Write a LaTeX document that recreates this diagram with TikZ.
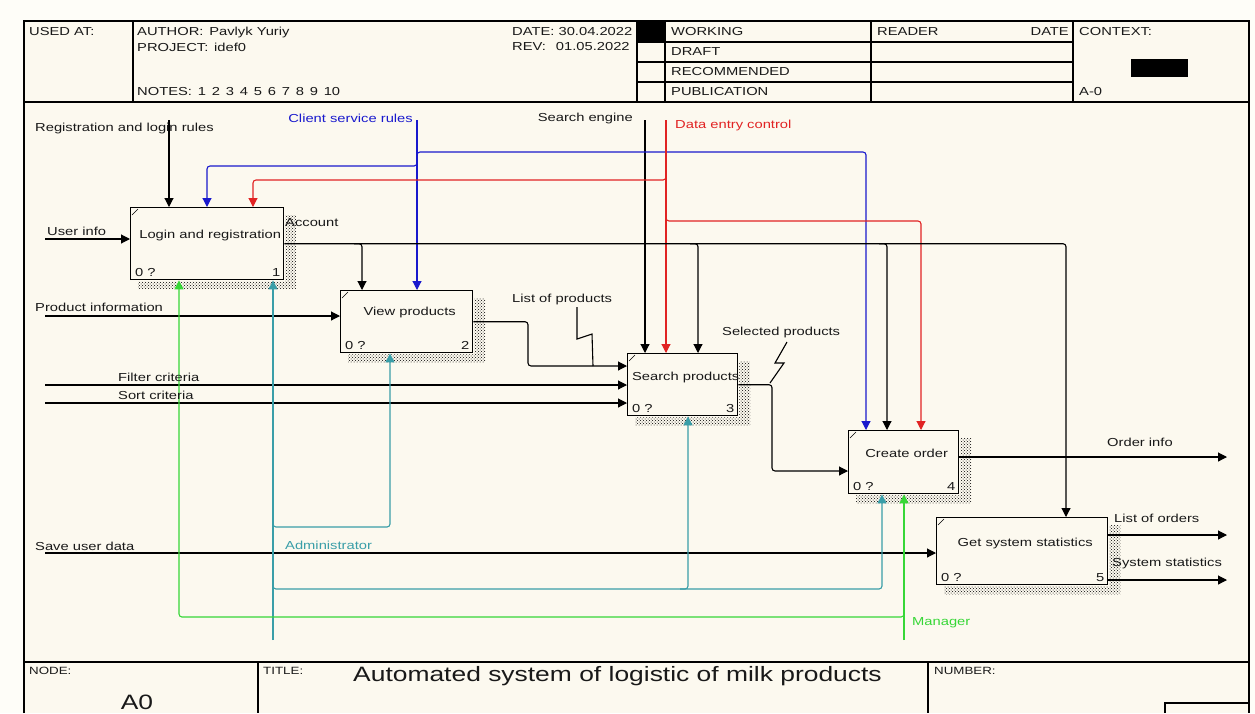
\documentclass[tikz,border=0pt]{standalone}
\usepackage{fontspec}
\setmainfont[FakeStretch=1.27]{Liberation Sans}
\usetikzlibrary{arrows.meta,patterns,calc}
\definecolor{paper}{RGB}{252,249,239}
\definecolor{margin}{RGB}{254,253,248}
\definecolor{ctlblue}{RGB}{25,25,205}
\definecolor{ctlred}{RGB}{225,35,35}
\definecolor{admcyan}{RGB}{58,158,168}
\definecolor{mgrgreen}{RGB}{55,215,55}
\tikzset{
  txt/.style={font=\fontsize{11.6}{13}\selectfont, inner sep=0pt, anchor=west, text=black!90},
  small/.style={font=\fontsize{10.5}{12}\selectfont, inner sep=0pt, anchor=west, text=black!90},
  big/.style={font=\fontsize{20.8}{24}\selectfont, inner sep=0pt, text=black!90},
  func/.style={draw, line width=1.4pt, fill=paper, anchor=north west, inner sep=0pt},
  frame/.style={line width=1.4pt},
  wire/.style={line width=1.1pt, rounded corners=3pt},
  arr/.style={wire, -{Triangle[length=9pt,width=9pt]}},
}
\begin{document}
\begin{tikzpicture}[x=1pt, y=-1pt]
  \useasboundingbox (0,0) rectangle (1255,713);
  \fill[margin] (0,0) rectangle (1255,713);
  \fill[paper] (24,21) rectangle (1249,713);

  % form
  \draw[frame] (24,713) -- (24,21) -- (1249,21) -- (1249,713);
  \draw[frame] (24,102) -- (1249,102);
  \draw[frame] (24,662) -- (1249,662);
  \foreach \x in {133,637,665,871,1073}
    \draw[frame] (\x,21) -- (\x,102);
  \foreach \y in {42,62,82}
    \draw[frame] (637,\y) -- (1073,\y);
  \fill (637,21) rectangle (665,42);
  \fill (1131,59) rectangle (1188,77);
  \draw[frame] (258,662) -- (258,713);
  \draw[frame] (928,662) -- (928,713);
  \draw[frame] (1165,713) -- (1165,703) -- (1249,703);

  \node[txt] (usedat) at (29,32) {USED AT:};
  \node[txt] (author) at (137,32) {AUTHOR:\enspace Pavlyk Yuriy};
  \node[txt] (project) at (137,47) {PROJECT:\enspace idef0};
  \node[txt] (notes) at (137,92) {NOTES:\enspace 1\enspace 2\enspace 3\enspace 4\enspace 5\enspace 6\enspace 7\enspace 8\enspace 9\enspace 10};
  \node[txt] (date) at (512,32) {DATE: 30.04.2022};
  \node[txt] (rev) at (512,47) {REV:\enspace\ 01.05.2022};
  \node[txt] (working) at (671,32) {WORKING};
  \node[txt] (draft) at (671,52) {DRAFT};
  \node[txt] (recommended) at (671,72) {RECOMMENDED};
  \node[txt] (publication) at (671,92) {PUBLICATION};
  \node[txt] (reader) at (877,32) {READER};
  \node[txt, anchor=east] (rdate) at (1069,32) {DATE};
  \node[txt] (context) at (1079,32) {CONTEXT:};
  \node[txt] (ctxnode) at (1079,92) {A-0};
  \node[small] (nodelbl) at (29,671) {NODE:};
  \node[big] (nodeid) at (137,702) {A0};
  \node[small] (titlelbl) at (263,671) {TITLE:};
  \node[big, anchor=west] (title) at (353,676) {Automated system of logistic of milk products};
  \node[small] (numberlbl) at (934,671) {NUMBER:};

  % functions
  \node[func, minimum width=153, minimum height=72] (login) at (130,207) {};
  \node[func, minimum width=132, minimum height=62] (view) at (340,290) {};
  \node[func, minimum width=110, minimum height=62] (search) at (627,353) {};
  \node[func, minimum width=110, minimum height=63] (order) at (848,430) {};
  \node[func, minimum width=171, minimum height=67] (stats) at (936,517) {};

  \foreach \b/\t/\n/\d in {login/Login and registration/1/28, view/View products/2/22,
      search/Search products/3/24, order/Create order/4/23, stats/Get system statistics/5/26} {
    \fill[pattern=crosshatch dots, pattern color=black]
      ($(\b.north east)+(1,8)$) rectangle ($(\b.south east)+(12,9)$)
      ($(\b.south west)+(8,1)$) rectangle ($(\b.south east)+(12,9)$);
    \draw[thin] ($(\b.north west)+(2,8)$) -- ($(\b.north west)+(8,2)$);
    \node[txt, anchor=center] (\b-txt) at ($(\b.north)+(3,\d)$) {\t};
    \node[txt, anchor=south west] (\b-q) at ($(\b.south west)+(5,-4)$) {0 ?};
    \node[txt, anchor=south east] (\b-n) at ($(\b.south east)+(-4,-4)$) {\n};
  }

  % controls
  \coordinate (regsrc) at (169,120);
  \coordinate (cssrc) at (417,120);
  \coordinate (sesrc) at (645,120);
  \coordinate (decsrc) at (666,120);
  \coordinate (csleft) at (207,166);
  \coordinate (csright) at (866,152);
  \coordinate (decleft) at (253,180);
  \coordinate (decright) at (921,221);
  \draw[arr] (regsrc) -- (regsrc |- login.north);
  \draw[arr] (sesrc) -- (sesrc |- search.north);
  \draw[arr, ctlblue] (cssrc) -- (cssrc |- view.north);
  \draw[arr, ctlblue] ($(cssrc |- csleft)+(0,-8)$) -- (cssrc |- csleft) -- (csleft) -- (csleft |- login.north);
  \draw[arr, ctlblue] ($(cssrc |- csright)+(0,8)$) -- (cssrc |- csright) -- (csright) -- (csright |- order.north);
  \draw[arr, ctlred] (decsrc) -- (decsrc |- search.north);
  \draw[arr, ctlred] ($(decsrc |- decleft)+(0,-8)$) -- (decsrc |- decleft) -- (decleft) -- (decleft |- login.north);
  \draw[arr, ctlred] ($(decsrc |- decright)+(0,-8)$) -- (decsrc |- decright) -- (decright) -- (decright |- order.north);

  % account
  \coordinate (accx) at (1066,0);
  \draw[arr] (login.east) -- (accx |- login.east) -- (accx |- stats.north);
  \foreach \x/\b in {362/view, 698/search, 887/order}
    \draw[arr] ($(\x,0 |- login.east)+(-8,0)$) -- (\x,0 |- login.east) -- (\x,0 |- \b.north);

  % inputs and outputs
  \coordinate (uisrc) at (45,239);
  \coordinate (pisrc) at (45,316);
  \coordinate (fcsrc) at (45,385);
  \coordinate (scsrc) at (45,403);
  \coordinate (sudsrc) at (45,553);
  \draw[arr] (uisrc) -- (uisrc -| login.west);
  \draw[arr] (pisrc) -- (pisrc -| view.west);
  \draw[arr] (fcsrc) -- (fcsrc -| search.west);
  \draw[arr] (scsrc) -- (scsrc -| search.west);
  \draw[arr] (sudsrc) -- (sudsrc -| stats.west);
  \coordinate (lopbend) at (528,366);
  \coordinate (spbend) at (772,471);
  \draw[arr] (view.east) -- (lopbend |- view.east) -- (lopbend) -- (lopbend -| search.west);
  \draw[arr] (search.east) -- (spbend |- search.east) -- (spbend) -- (spbend -| order.west);
  \coordinate (oiend) at (1227,457);
  \coordinate (loend) at (1227,535);
  \coordinate (ssend) at (1227,580);
  \draw[arr] (oiend -| order.east) -- (oiend);
  \draw[arr] (loend -| stats.east) -- (loend);
  \draw[arr] (ssend -| stats.east) -- (ssend);

  % mechanisms
  \coordinate (admsrc) at (273,640);
  \coordinate (admview) at (390,527);
  \coordinate (admlow) at (882,589);
  \coordinate (mgrsrc) at (904,640);
  \coordinate (mgrleft) at (179,617);
  \draw[arr, admcyan] (admsrc) -- (admsrc |- login.south);
  \draw[arr, admcyan] ($(admsrc |- admview)+(0,-8)$) -- (admsrc |- admview) -- (admview) -- (admview |- view.south);
  \draw[arr, admcyan] ($(admsrc |- admlow)+(0,-8)$) -- (admsrc |- admlow) -- (admlow) -- (admlow |- order.south);
  \draw[arr, admcyan] ($(688,0 |- admlow)+(-8,0)$) -- (688,0 |- admlow) -- (688,0 |- search.south);
  \draw[arr, mgrgreen] (mgrsrc) -- (mgrsrc |- order.south);
  \draw[arr, mgrgreen] ($(mgrsrc |- mgrleft)+(0,-8)$) -- (mgrsrc |- mgrleft) -- (mgrleft) -- (mgrleft |- login.south);

  % squiggles
  \draw[line width=1.1pt] (577,307) -- (577,339) -- (592,334) -- (593,366);
  \draw[line width=1.1pt] (787,342) -- (775,363) -- (784,363) -- (770,383);

  % labels
  \node[txt] (reglbl) at (35,128) {Registration and login rules};
  \node[txt, anchor=east, text=ctlblue] (cslbl) at (413,118) {Client service rules};
  \node[txt, anchor=east] (selbl) at (633,118) {Search engine};
  \node[txt, text=ctlred] (declbl) at (675,125) {Data entry control};
  \node[txt] (uilbl) at (47,231) {User info};
  \node[txt] (acclbl) at (285,223) {Account};
  \node[txt] (pilbl) at (35,307) {Product information};
  \node[txt] (loplbl) at (512,299) {List of products};
  \node[txt] (fclbl) at (118,377) {Filter criteria};
  \node[txt] (sclbl) at (118,395) {Sort criteria};
  \node[txt] (splbl) at (722,332) {Selected products};
  \node[txt] (oilbl) at (1107,442) {Order info};
  \node[txt] (lolbl) at (1114,518) {List of orders};
  \node[txt] (sslbl) at (1112,563) {System statistics};
  \node[txt] (sudlbl) at (35,546) {Save user data};
  \node[txt, text=admcyan] (admlbl) at (285,545) {Administrator};
  \node[txt, text=mgrgreen] (mgrlbl) at (912,623) {Manager};
\end{tikzpicture}
\end{document}
